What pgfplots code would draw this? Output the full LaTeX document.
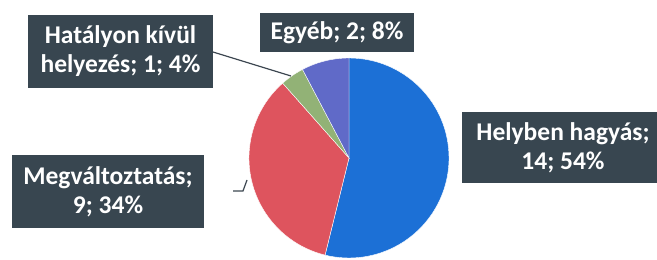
\documentclass[border=0pt]{standalone}
\usepackage{fontspec}
\setmainfont{Carlito}
\usepackage{pgfplots}
\pgfplotsset{compat=1.18}
\usepackage{pgfplotstable}
\definecolor{blueA}{RGB}{28,112,214}
\definecolor{redA}{RGB}{222,84,94}
\definecolor{greenA}{RGB}{146,178,118}
\definecolor{purpleA}{RGB}{96,106,200}
\definecolor{boxA}{RGB}{56,70,80}
\definecolor{lineA}{RGB}{60,70,80}
\tikzset{lbl/.style={fill=boxA, text=white, align=center, inner sep=0pt,
     font=\bfseries\fontsize{25.5}{29}\selectfont}}
\pgfplotstableread{
label value
Helyben 14
Megvaltoztatas 9
Hatalyon 1
Egyeb 2
}\piedata
\begin{document}
\begin{tikzpicture}
\useasboundingbox (0,0) rectangle (657pt,260pt);
\clip (0,0) rectangle (657pt,260pt);
% cumulative angles from the data (clockwise from the top)
\pgfplotstablegetelem{0}{value}\of\piedata \let\vA\pgfplotsretval
\pgfplotstablegetelem{1}{value}\of\piedata \let\vB\pgfplotsretval
\pgfplotstablegetelem{2}{value}\of\piedata \let\vC\pgfplotsretval
\pgfplotstablegetelem{3}{value}\of\piedata \let\vD\pgfplotsretval
\pgfmathsetmacro\tot{\vA+\vB+\vC+\vD}
\pgfmathsetmacro\aA{90}
\pgfmathsetmacro\aB{\aA-360*\vA/\tot}
\pgfmathsetmacro\aC{\aB-360*\vB/\tot}
\pgfmathsetmacro\aD{\aC-360*\vC/\tot}
\pgfmathsetmacro\aE{\aD-360*\vD/\tot}
\begin{axis}[
  at={(0,0)}, anchor=south west,
  scale only axis, width=657pt, height=260pt,
  xmin=0, xmax=657, ymin=0, ymax=260,
  axis lines=none, clip=false,
]
\addplot[draw=none] coordinates {(0,0) (657,260)};
\def\cx{349}\def\cy{102}
\fill[blueA, draw=white, line width=0.4pt] (axis cs:\cx,\cy) -- ++(\aA:100pt) arc[start angle=\aA, end angle=\aB, radius=100pt] -- cycle;
\fill[redA, draw=white, line width=0.4pt] (axis cs:\cx,\cy) -- ++(\aB:100pt) arc[start angle=\aB, end angle=\aC, radius=100pt] -- cycle;
\fill[greenA, draw=white, line width=0.4pt] (axis cs:\cx,\cy) -- ++(\aC:100pt) arc[start angle=\aC, end angle=\aD, radius=100pt] -- cycle;
\fill[purpleA, draw=white, line width=0.4pt] (axis cs:\cx,\cy) -- ++(\aD:100pt) arc[start angle=\aD, end angle=\aE, radius=100pt] -- cycle;
% leader lines
\draw[lineA, line width=1.2pt] (axis cs:213,208) -- (axis cs:291,184);
\draw[lineA, line width=1.2pt] (axis cs:233,69) -- (axis cs:243,69) -- (axis cs:247,80);
% labels
\node[lbl, minimum width=185pt, minimum height=73pt] at (axis cs:120.5,208.5) {Hatályon kívül\\helyezés; 1; 4\%};
\node[lbl, minimum width=154pt, minimum height=39pt] at (axis cs:337,227.5) {Egyéb; 2; 8\%};
\node[lbl, minimum width=202pt, minimum height=71pt] at (axis cs:563,112.5) {Helyben hagyás;\\14; 54\%};
\node[lbl, minimum width=192pt, minimum height=73pt] at (axis cs:108,68.5) {Megváltoztatás;\\9; 34\%};
\end{axis}
\end{tikzpicture}
\end{document}
